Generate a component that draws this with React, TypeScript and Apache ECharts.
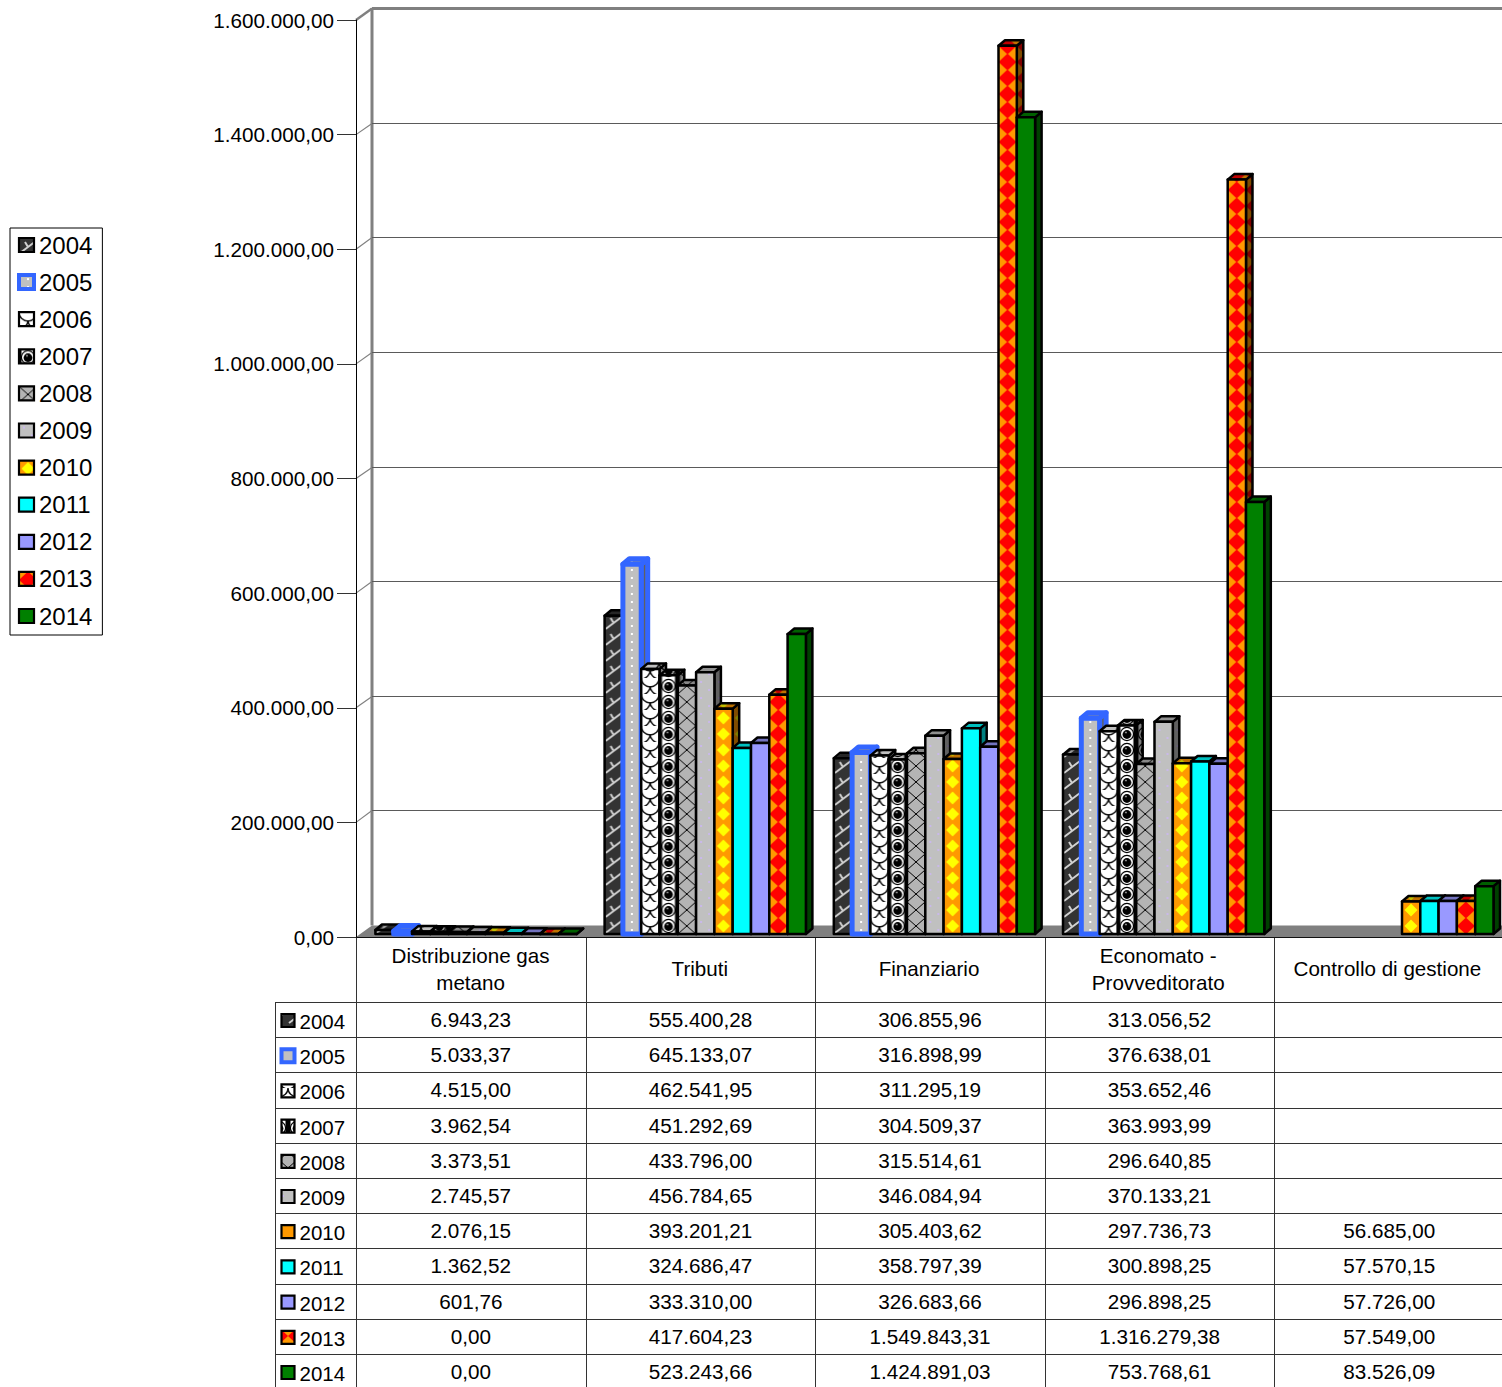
import React, { useEffect, useRef } from "react";
import * as echarts from "echarts";

const categories = ["Distribuzione gas\nmetano", "Tributi", "Finanziario", "Economato -\nProvveditorato", "Controllo di gestione"];
const years = ["2004", "2005", "2006", "2007", "2008", "2009", "2010", "2011", "2012", "2013", "2014"];
const v2004 = [6943.23, 555400.28, 306855.96, 313056.52, null];
const v2005 = [5033.37, 645133.07, 316898.99, 376638.01, null];
const v2006 = [4515.0, 462541.95, 311295.19, 353652.46, null];
const v2007 = [3962.54, 451292.69, 304509.37, 363993.99, null];
const v2008 = [3373.51, 433796.0, 315514.61, 296640.85, null];
const v2009 = [2745.57, 456784.65, 346084.94, 370133.21, null];
const v2010 = [2076.15, 393201.21, 305403.62, 297736.73, 56685.0];
const v2011 = [1362.52, 324686.47, 358797.39, 300898.25, 57570.15];
const v2012 = [601.76, 333310.0, 326683.66, 296898.25, 57726.0];
const v2013 = [0, 417604.23, 1549843.31, 1316279.38, 57549.0];
const v2014 = [0, 523243.66, 1424891.03, 753768.61, 83526.09];
const allValues = [v2004, v2005, v2006, v2007, v2008, v2009, v2010, v2011, v2012, v2013, v2014];
const yTicks = [0, 200000, 400000, 600000, 800000, 1000000, 1200000, 1400000, 1600000];

const FONT = "Liberation Sans";
const TW = 18;
const TH = 16;
const GRID_L = 356;
const GRID_T = 20;
const GRID_H = 917;
const GRID_W = 1148;
const WALL_DX = 16;
const WALL_DY = 12;
const BAR_W = 18.3;
const BAR_START = 19.4;
const BAR_DY = 3;
const DEPTH_X = 6.5;
const DEPTH_Y = 5.5;
const ROW_H = 35.2;
const TABLE_TOP = 1002;

function fmt(v: number): string {
  const [a, b] = v.toFixed(2).split(".");
  return a.replace(/\B(?=(\d{3})+$)/g, ".") + "," + b;
}

function paint(ctx: CanvasRenderingContext2D, i: number) {
  const bg = (c: string) => {
    ctx.fillStyle = c;
    ctx.fillRect(0, 0, TW, TH);
  };
  const diamond = (c: string, rx: number, ry: number) => {
    ctx.fillStyle = c;
    ctx.beginPath();
    ctx.moveTo(9, 8 - ry);
    ctx.lineTo(9 + rx, 8);
    ctx.lineTo(9, 8 + ry);
    ctx.lineTo(9 - rx, 8);
    ctx.closePath();
    ctx.fill();
  };
  const dot = (c: string, x: number, y: number, s: number) => {
    ctx.fillStyle = c;
    ctx.fillRect(x - s / 2, y - s / 2, s, s);
  };
  switch (i) {
    case 0:
      bg("#333333");
      ctx.strokeStyle = "#d0d0d0";
      ctx.lineWidth = 2;
      ctx.beginPath();
      ctx.moveTo(1, 15);
      ctx.lineTo(9, 9);
      ctx.lineTo(17, 3);
      ctx.moveTo(9, 9);
      ctx.lineTo(6, 4);
      ctx.stroke();
      break;
    case 1:
      bg("#c0c0c0");
      dot("#ffffff", 9, 4, 2);
      dot("#ffffff", 9, 12, 2);
      break;
    case 2:
      bg("#ffffff");
      ctx.strokeStyle = "#111111";
      ctx.lineWidth = 1.4;
      [[9, 0], [0, 8], [18, 8], [9, 16]].forEach(([cx, cy]) => {
        ctx.beginPath();
        ctx.arc(cx, cy, 9, 0, Math.PI);
        ctx.stroke();
      });
      break;
    case 3:
      bg("#ffffff");
      ctx.fillStyle = "#000000";
      ctx.fillRect(0, 0, 2.5, TH);
      ctx.fillRect(15.5, 0, 2.5, TH);
      ctx.strokeStyle = "#000000";
      ctx.lineWidth = 1.2;
      ctx.beginPath();
      ctx.arc(9, 8, 6.6, 0, Math.PI * 2);
      ctx.stroke();
      ctx.beginPath();
      ctx.arc(9, 8.5, 4.4, 0, Math.PI * 2);
      ctx.fill();
      dot("#bbbbbb", 8, 6.5, 1.5);
      break;
    case 4:
      bg("#b4b4b4");
      ctx.strokeStyle = "#000000";
      ctx.lineWidth = 1;
      ctx.beginPath();
      ctx.moveTo(0, 0);
      ctx.lineTo(TW, TH);
      ctx.moveTo(TW, 0);
      ctx.lineTo(0, TH);
      ctx.stroke();
      break;
    case 5:
      bg("#c0c0c0");
      dot("#c9b8ea", 5, 4, 2);
      dot("#c9b8ea", 13, 12, 2);
      break;
    case 6:
      bg("#ff9900");
      diamond("#ffff00", 6.5, 6.5);
      break;
    case 9:
      bg("#ff9900");
      diamond("#ff0000", 9, 8.5);
      break;
  }
}

const SOLID: Record<number, string> = { 7: "#00ffff", 8: "#9999ff", 10: "#008000" };

function shadeHex(c: string, shade: number) {
  const n = parseInt(c.slice(1), 16);
  const f = 1 - shade;
  const p = (x: number) => Math.round(x * f).toString(16).padStart(2, "0");
  return "#" + p((n >> 16) & 255) + p((n >> 8) & 255) + p(n & 255);
}

const cache: Record<string, any> = {};
function fillOf(i: number, shade: number) {
  if (SOLID[i]) return shadeHex(SOLID[i], shade);
  const key = i + "_" + shade;
  if (!cache[key]) {
    const cv = document.createElement("canvas");
    cv.width = TW;
    cv.height = TH;
    const ctx = cv.getContext("2d")!;
    paint(ctx, i);
    if (shade > 0) {
      ctx.fillStyle = `rgba(0,0,0,${shade})`;
      ctx.fillRect(0, 0, TW, TH);
    }
    cache[key] = { image: cv, repeat: "repeat", imageWidth: TW, imageHeight: TH };
  }
  return cache[key];
}

const strokeOf = (i: number) => (i === 1 ? "#3366ff" : "#000000");
const lineOf = (i: number) => (i === 1 ? 5 : 2.5);

function barRenderer(si: number) {
  return (_p: any, api: any) => {
    const v = api.value(1);
    if (v == null || isNaN(v)) return null;
    const idx = api.value(0);
    const top = api.coord([idx, v]);
    const base = api.coord([idx, 0]);
    const band = api.size([1, 0])[0];
    const x = base[0] - band / 2 + BAR_START + si * BAR_W;
    const y = base[1] - BAR_DY;
    const h = base[1] - top[1];
    const w = BAR_W;
    const stroke = strokeOf(si);
    const lineWidth = lineOf(si);
    const st = (fill: any) => ({ fill, stroke, lineWidth, lineJoin: "round" });
    return {
      type: "group",
      x,
      y,
      children: [
        {
          type: "polygon",
          shape: { points: [[w, 0], [w + DEPTH_X, -DEPTH_Y], [w + DEPTH_X, -h - DEPTH_Y], [w, -h]] },
          style: st(fillOf(si, 0.5)),
        },
        {
          type: "polygon",
          shape: { points: [[0, -h], [DEPTH_X, -h - DEPTH_Y], [w + DEPTH_X, -h - DEPTH_Y], [w, -h]] },
          style: st(fillOf(si, 0.25)),
        },
        {
          type: "rect",
          shape: { x: 0, y: -h, width: w, height: h },
          style: st(fillOf(si, 0)),
        },
      ],
    };
  };
}

function wallRenderer(params: any, api: any) {
  const v = api.value(1);
  const cs = params.coordSys;
  const y = api.coord([0, v])[1];
  const x0 = cs.x;
  const xb = x0 + WALL_DX;
  const yb = Math.round(y - WALL_DY) + 0.5;
  const xEnd = cs.x + cs.width + 5;
  const grey = "#808080";
  const children: any[] = [];
  if (v === 0) {
    children.push({
      type: "polygon",
      shape: { points: [[x0, y], [xb, yb], [xEnd, yb], [xEnd, y]] },
      style: { fill: grey },
    });
    const topY = cs.y - WALL_DY;
    children.push({
      type: "line",
      shape: { x1: xb, y1: topY, x2: xb, y2: yb },
      style: { stroke: grey, lineWidth: 3 },
    });
  } else {
    const top = y <= cs.y + 0.5;
    children.push({
      type: "polyline",
      shape: { points: [[x0, y], [xb, yb]] },
      style: { stroke: grey, lineWidth: top ? 2.5 : 1.2, fill: "none" },
    });
    children.push({
      type: "line",
      shape: { x1: xb, y1: yb, x2: xEnd, y2: yb },
      style: { stroke: top ? grey : "#5a5a5a", lineWidth: top ? 3 : 1 },
    });
  }
  return { type: "group", children };
}

function tableGraphics() {
  const els: any[] = [];
  const line = "#333333";
  const right = 1510;
  const rows = years.length;
  const bottom = TABLE_TOP + rows * ROW_H + 5;
  const colW = GRID_W / categories.length;
  const seg = (x1: number, y1: number, x2: number, y2: number) =>
    els.push({ type: "line", shape: { x1, y1, x2, y2 }, style: { stroke: line, lineWidth: 1 }, silent: true });
  for (let c = 0; c < categories.length; c++) {
    const x = Math.round(GRID_L + c * colW) + 0.5;
    seg(x, GRID_T + GRID_H, x, bottom);
  }
  seg(275.5, TABLE_TOP, 275.5, bottom);
  for (let r = 0; r < rows; r++) {
    const y = Math.round(TABLE_TOP + r * ROW_H) + 0.5;
    seg(275, y, right, y);
  }
  years.forEach((yr, r) => {
    const cy = TABLE_TOP + r * ROW_H + 17.5;
    els.push({
      type: "rect",
      shape: { x: 281.5, y: cy - 5.5, width: 13, height: 13 },
      style: { fill: fillOf(r, 0), stroke: strokeOf(r), lineWidth: r === 1 ? 4 : 2.2 },
      silent: true,
    });
    els.push({
      type: "text",
      x: 299.5,
      y: cy + 2,
      style: { text: yr, font: `20.5px "${FONT}"`, fill: "#000", textAlign: "left", textVerticalAlign: "middle" },
      silent: true,
    });
    allValues[r].forEach((v, c) => {
      if (v == null) return;
      els.push({
        type: "text",
        x: GRID_L + (c + 0.5) * colW,
        y: cy,
        style: { text: fmt(v), font: `20.7px "${FONT}"`, fill: "#000", textAlign: "center", textVerticalAlign: "middle" },
        silent: true,
      });
    });
  });
  return els;
}

export default function App() {
  const ref = useRef<HTMLDivElement>(null);
  useEffect(() => {
    const chart = echarts.init(ref.current!, undefined, { renderer: "svg" });
    chart.setOption({
      animation: false,
      textStyle: { fontFamily: FONT },
      grid: { left: GRID_L, top: GRID_T, width: GRID_W, height: GRID_H, containLabel: false },
      xAxis: {
        type: "category",
        data: categories,
        axisLine: { show: true, lineStyle: { color: "#111", width: 1 } },
        axisTick: { show: false },
        axisLabel: {
          interval: 0,
          fontSize: 20.6,
          lineHeight: 27,
          color: "#000",
          margin: 31.5,
          verticalAlign: "middle",
          fontFamily: FONT,
        },
        z: 5,
      },
      yAxis: {
        type: "value",
        min: 0,
        max: 1600000,
        interval: 200000,
        axisLine: { show: true, lineStyle: { color: "#000", width: 1 } },
        axisTick: { show: true, length: 19, lineStyle: { color: "#333", width: 1 } },
        splitLine: { show: false },
        axisLabel: {
          formatter: (v: number) => fmt(v),
          fontSize: 20.7,
          color: "#000",
          margin: 22,
          fontFamily: FONT,
        },
        z: 5,
      },
      legend: {
        orient: "vertical",
        left: 10,
        top: 228,
        padding: [5, 10, 7, 7],
        itemWidth: 15,
        itemHeight: 14,
        itemGap: 13.1,
        borderColor: "#000",
        borderWidth: 1,
        selectedMode: false,
        textStyle: { fontSize: 24, color: "#000", fontFamily: FONT },
        data: years.map((y, i) => ({
          name: y,
          icon: "rect",
          itemStyle: { color: fillOf(i, 0), borderColor: strokeOf(i), borderWidth: i === 1 ? 4 : 2.2 },
        })),
      },
      series: [
        {
          type: "custom",
          name: "wall",
          renderItem: wallRenderer,
          data: yTicks.map((v) => [0, v]),
          encode: { x: 0, y: 1 },
          silent: true,
          z: 1,
        },
        ...years.map((y, si) => ({
          type: "custom",
          name: y,
          renderItem: barRenderer(si),
          data: allValues[si].map((v, i) => [i, v]),
          encode: { x: 0, y: 1 },
          silent: true,
          z: 2,
        })),
      ],
      graphic: { elements: tableGraphics() },
    });
    return () => chart.dispose();
  }, []);
  return (
    <div
      ref={ref}
      style={{ position: "absolute", left: 0, top: 0, width: 1502, height: 1387, overflow: "hidden", background: "#fff" }}
    />
  );
}
